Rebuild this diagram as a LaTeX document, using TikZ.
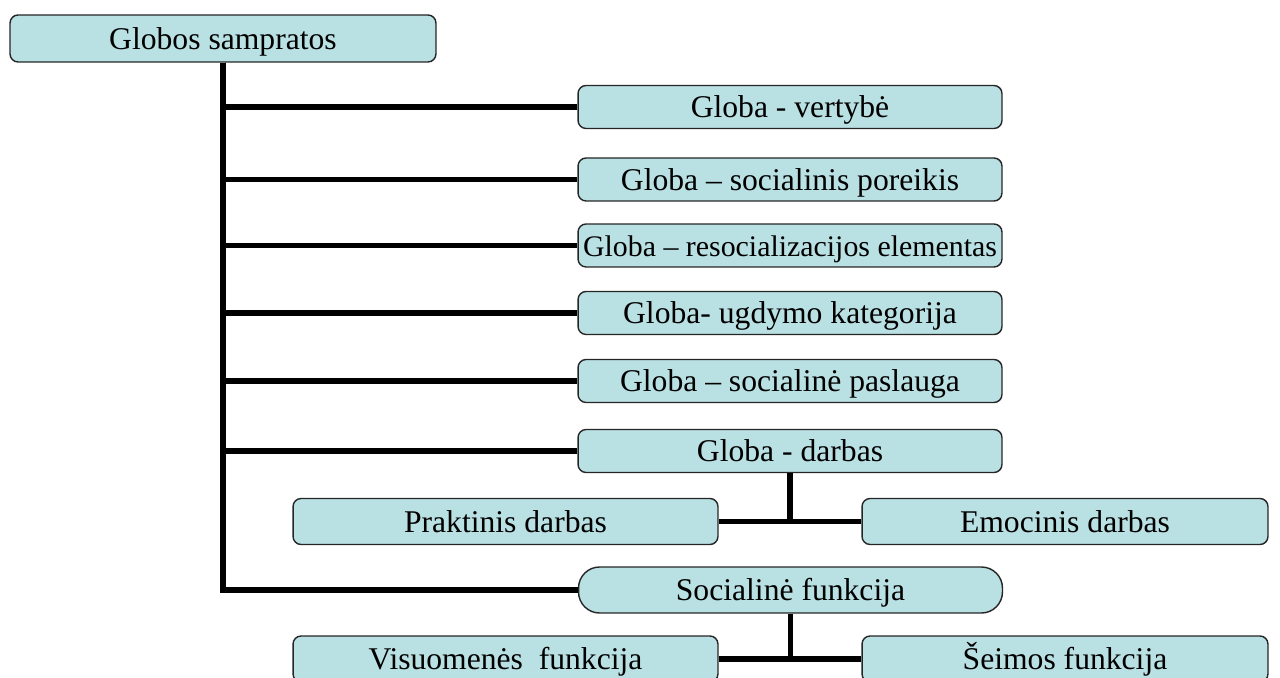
\documentclass[tikz,border=0pt]{standalone}
\usepackage{fontspec}
\setmainfont{Liberation Serif}
\usepackage{tikz}
\usetikzlibrary{positioning}

\definecolor{globefill}{RGB}{185,224,227}

\tikzset{
    gbox/.style={draw=black!85, line width=0.8pt, fill=globefill, rounded corners=0.16cm,
        inner sep=0, minimum width=8.48cm, minimum height=0.86cm,
        text height=14pt, text depth=1.8pt,
        font=\fontsize{18}{21}\selectfont},
    link/.style={line width=3.3pt, line join=miter}
}

\begin{document}
\begin{tikzpicture}[x=0.02cm, y=-0.02cm]

    \clip (0,0) rectangle (1280,678);
	
	% Nodes
    \node[gbox, minimum width=8.52cm, minimum height=0.94cm] (sampratos) at (223, 38.5) {Globos sampratos};

    \node[gbox] (vertybe) at (790, 107) {Globa - vertybė};
    \node[gbox] (poreikis) at (790, 179.5) {Globa – socialinis poreikis};
    \node[gbox, font=\fontsize{17}{20}\selectfont] (resocial) at (790, 245.5) {Globa – resocializacijos elementas};
    \node[gbox] (ugdymo) at (790, 313) {Globa- ugdymo kategorija};
    \node[gbox] (paslauga) at (790, 381) {Globa – socialinė paslauga};
    \node[gbox] (darbas) at (790, 451) {Globa - darbas};
        \node[gbox, minimum width=8.5cm, minimum height=0.92cm] (praktinis) at (505.5, 521.5) {Praktinis darbas};
        \node[gbox, minimum width=8.12cm, minimum height=0.92cm] (emocinis) at (1065, 521.5) {Emocinis darbas};
    \node[gbox, rounded corners=0.42cm, minimum height=0.92cm] (socfunk) at (790.5, 590) {Socialinė funkcija};
        \node[gbox, minimum width=8.5cm, minimum height=0.92cm] (visuomenes) at (505.5, 659) {Visuomenės\ \ funkcija};
        \node[gbox, minimum width=8.12cm, minimum height=0.92cm] (seimos) at (1065, 659) {Šeimos funkcija};

    % Lines
    \draw[link] (sampratos.south) |- (vertybe.west);
    \draw[link] (sampratos.south) |- (poreikis.west);
    \draw[link] (sampratos.south) |- (resocial.west);
    \draw[link] (sampratos.south) |- (ugdymo.west);
    \draw[link] (sampratos.south) |- (paslauga.west);
    \draw[link] (sampratos.south) |- (darbas.west);
    \draw[link] (sampratos.south) |- (socfunk.west);
    \draw[link] (darbas.south) -- (darbas.south |- praktinis.east);
    \draw[link] (praktinis.east) -- (emocinis.west);
    \draw[link] (socfunk.south) -- (socfunk.south |- visuomenes.east);
    \draw[link] (visuomenes.east) -- (seimos.west);

\end{tikzpicture}
\end{document}
